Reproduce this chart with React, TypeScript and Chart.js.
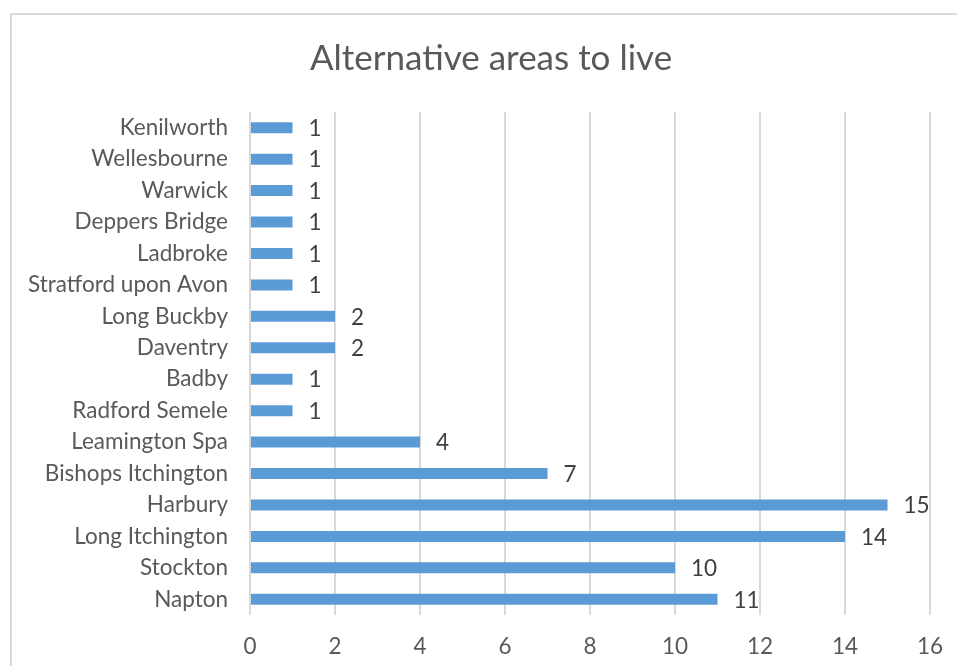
import React, { useEffect, useRef } from "react";
import { Chart, registerables } from "chart.js";

Chart.register(...registerables);

const TITLE = "Alternative areas to live";
const AREAS = [
  "Kenilworth",
  "Wellesbourne",
  "Warwick",
  "Deppers Bridge",
  "Ladbroke",
  "Stratford upon Avon",
  "Long Buckby",
  "Daventry",
  "Badby",
  "Radford Semele",
  "Leamington Spa",
  "Bishops Itchington",
  "Harbury",
  "Long Itchington",
  "Stockton",
  "Napton",
];
const COUNTS = [1, 1, 1, 1, 1, 1, 2, 2, 1, 1, 4, 7, 15, 14, 10, 11];
const X_MIN = 0;
const X_MAX = 16;
const X_STEP = 2;

const FONT = "Lato, 'Open Sans', sans-serif";
const TEXT_COLOR = "#595959";
const BAR_COLOR = "#5b9bd5";
const GRID_COLOR = "#d9d9d9";

// Frame around the chart and the title text
const framePlugin = {
  id: "frameAndTitle",
  beforeDraw(chart: any) {
    const { ctx } = chart;
    ctx.save();
    ctx.fillStyle = "#ffffff";
    ctx.fillRect(0, 0, chart.width, chart.height);
    ctx.strokeStyle = "#d9d9d9";
    ctx.lineWidth = 2;
    ctx.beginPath();
    ctx.moveTo(11, chart.height + 5);
    ctx.lineTo(11, 14);
    ctx.lineTo(chart.width + 5, 14);
    ctx.stroke();
    ctx.fillStyle = TEXT_COLOR;
    ctx.font = `35px ${FONT}`;
    ctx.textAlign = "center";
    ctx.textBaseline = "middle";
    ctx.fillText(TITLE, 491, 59);
    ctx.restore();
  },
};

// Value labels placed just past the end of each bar
const valueLabelPlugin = {
  id: "valueLabels",
  afterDatasetsDraw(chart: any) {
    const { ctx } = chart;
    const meta = chart.getDatasetMeta(0);
    ctx.save();
    ctx.fillStyle = "#404040";
    ctx.font = `22.5px ${FONT}`;
    ctx.textAlign = "left";
    ctx.textBaseline = "middle";
    meta.data.forEach((bar: any, i: number) => {
      ctx.fillText(String(COUNTS[i]), bar.x + 16, bar.y + 1);
    });
    ctx.restore();
  },
};

export default function App() {
  const canvasRef = useRef<HTMLCanvasElement | null>(null);

  useEffect(() => {
    const canvas = canvasRef.current;
    if (!canvas) return;
    const chart = new Chart(canvas, {
      type: "bar",
      data: {
        labels: AREAS,
        datasets: [
          {
            data: COUNTS,
            backgroundColor: BAR_COLOR,
            borderWidth: 0,
            barPercentage: 0.35,
            categoryPercentage: 1,
          },
        ],
      },
      options: {
        indexAxis: "y",
        responsive: false,
        animation: false,
        layout: { padding: { top: 112, right: 27, left: 0, bottom: 0 } },
        plugins: {
          legend: { display: false },
          title: { display: false },
          tooltip: { enabled: false },
        },
        scales: {
          x: {
            min: X_MIN,
            max: X_MAX,
            ticks: {
              stepSize: X_STEP,
              color: TEXT_COLOR,
              font: { family: FONT, size: 22.5 },
              padding: 18,
            },
            grid: { color: GRID_COLOR, lineWidth: 2, drawTicks: false },
            border: { display: false },
            afterFit(scale: any) {
              scale.height = 51;
              scale.paddingLeft = 0;
              scale.paddingRight = 0;
            },
          },
          y: {
            ticks: {
              color: TEXT_COLOR,
              font: { family: FONT, size: 22.5 },
              padding: 22,
              autoSkip: false,
            },
            grid: { display: false, drawTicks: false },
            border: { display: false },
            afterFit(scale: any) {
              scale.width = 250;
            },
          },
        },
      },
      plugins: [framePlugin, valueLabelPlugin],
    });
    return () => chart.destroy();
  }, []);

  return (
    <div style={{ position: "fixed", left: 0, top: 0, width: 957, height: 666 }}>
      <canvas ref={canvasRef} width={957} height={666} />
    </div>
  );
}
